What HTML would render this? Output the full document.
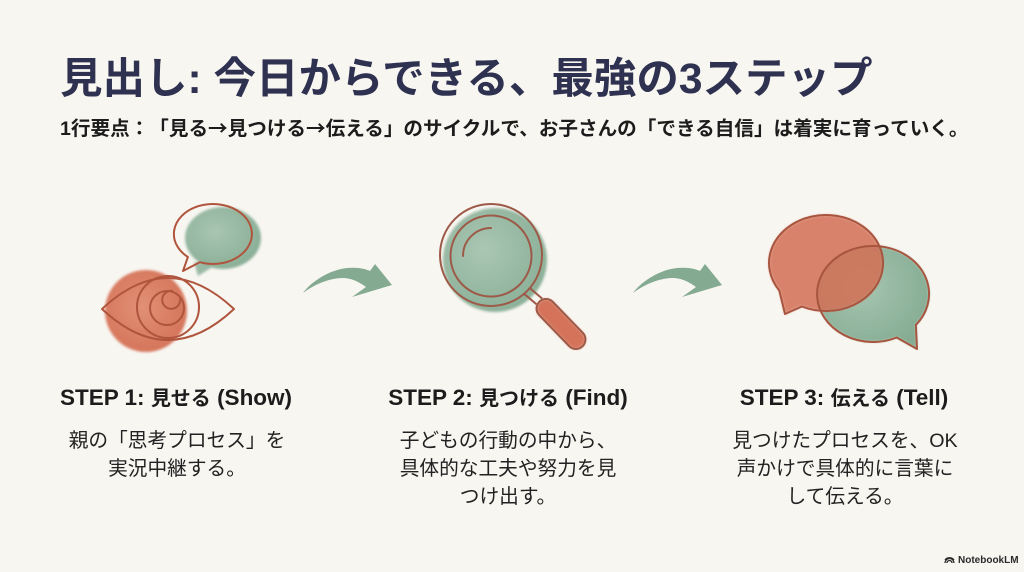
<!DOCTYPE html>
<html>
<head>
<meta charset="utf-8">
<style>
  html,body{margin:0;padding:0;}
  body{width:1024px;height:572px;background:#f8f6f1;position:relative;overflow:hidden;
    font-family:"Liberation Sans","Noto Sans CJK JP",sans-serif;
    font-feature-settings:"chws" 0, "halt" 0, "palt" 0;
    text-spacing-trim:space-all;}
  .t{position:absolute;white-space:nowrap;line-height:1;}
  .j{font-family:"Noto Sans CJK JP",sans-serif;text-spacing-trim:space-all;}
  #title{left:60px;top:59px;font-size:42.5px;font-weight:700;color:#2e3150;}
  #sub{left:60px;top:117px;font-size:19.6px;font-weight:700;color:#1c1c1c;}
  .h{position:absolute;width:340px;text-align:center;top:387px;font-size:20px;font-weight:700;color:#1c1c1c;line-height:1;white-space:nowrap;}
  .h .l{font-size:22.5px;}
  .b{position:absolute;width:340px;text-align:center;top:427px;font-size:19.7px;line-height:28px;color:#222;white-space:nowrap;}
  #logo{position:absolute;left:958px;top:556px;font-size:10px;font-weight:700;color:#2a2a2a;line-height:1;}
</style>
</head>
<body>
<svg width="1024" height="572" style="position:absolute;left:0;top:0" xmlns="http://www.w3.org/2000/svg">
  <defs>
    <filter id="wc" x="-20%" y="-20%" width="140%" height="140%"><feGaussianBlur stdDeviation="1.2"/></filter>
    <radialGradient id="rg" cx="45%" cy="45%" r="60%">
      <stop offset="0" stop-color="#e08a70"/>
      <stop offset="1" stop-color="#d26c50"/>
    </radialGradient>
    <radialGradient id="gg" cx="40%" cy="40%" r="65%">
      <stop offset="0" stop-color="#a2c2ad"/>
      <stop offset="1" stop-color="#7fa88e"/>
    </radialGradient>
  </defs>

  <!-- STEP 1 icon: eye + speech bubble -->
  <g filter="url(#wc)">
    <ellipse cx="223" cy="238" rx="38" ry="31" fill="url(#gg)" opacity="0.92"/>
    <polygon points="194,262 198,276 214,266" fill="#8fb39c" opacity="0.9"/>
    <circle cx="146" cy="311" r="41" fill="url(#rg)" opacity="0.95"/>
  </g>
  <g fill="none" stroke="#b0553d" stroke-width="2" stroke-linejoin="round">
    <path d="M187.9,257 L183,271 L199.7,262.2 A39 30 0 1 0 187.9,257 Z"/>
    <path d="M102,309 Q168,247 234,309 Q168,371 102,309 Z"/>
    <circle cx="168" cy="307" r="31"/>
    <circle cx="167" cy="308" r="17"/>
    <path d="M180,298 A9 9 0 1 1 173,291"/>
  </g>

  <!-- Arrows -->
  <path d="M303,293 C310,283 328,270 347,268 C358,267 366,269 370,271 L375,264 L392,285 L352,297 L366,287 C358,281 350,278 343,278 C330,278 315,284 303,293 Z" fill="#84aa91"/>
  <path d="M633,293 C640,283 658,270 677,268 C688,267 696,269 700,271 L705,264 L722,285 L682,297 L696,287 C688,281 680,278 673,278 C660,278 645,284 633,293 Z" fill="#84aa91"/>

  <!-- STEP 2 icon: magnifier -->
  <g filter="url(#wc)">
    <circle cx="495" cy="260" r="52" fill="url(#gg)" opacity="0.9"/>
    <rect x="-31" y="-9.5" width="62" height="19" rx="9.5" transform="translate(561,324) rotate(46)" fill="#d5735a"/>
  </g>
  <g fill="none" stroke="#9d5a48" stroke-width="2">
    <circle cx="491" cy="255" r="51"/>
    <circle cx="491" cy="256" r="40.5"/>
    <path d="M463,256 A28 28 0 0 1 491,228" stroke-linecap="round"/>
    <line x1="529.9" y1="288.2" x2="542.2" y2="298.6"/>
    <line x1="524.1" y1="293.8" x2="536.4" y2="304.2"/>
    <rect x="-31" y="-9.5" width="62" height="19" rx="9.5" transform="translate(561,324) rotate(46)"/>
  </g>

  <!-- STEP 3 icon: two bubbles -->
  <g filter="url(#wc)">
    <path d="M915.9,324.9 L917,349 L896.7,337.5 A56 48 0 1 1 915.9,324.9 Z" fill="url(#gg)" opacity="0.95"/>
    <path d="M779.3,290.5 L785,314 L801.9,306.5 A57 48 0 1 0 779.3,290.5 Z" fill="#d46f53" opacity="0.85"/>
  </g>
  <g fill="none" stroke="#a8553f" stroke-width="2" stroke-linejoin="round">
    <path d="M779.3,290.5 L785,314 L801.9,306.5 A57 48 0 1 0 779.3,290.5 Z"/>
    <path d="M915.9,324.9 L917,349 L896.7,337.5 A56 48 0 1 1 915.9,324.9 Z"/>
  </g>

  <!-- logo icon -->
  <g fill="none" stroke="#2a2a2a" stroke-width="1.3">
    <path d="M945,563 A4.5 4.5 0 0 1 954,563"/>
    <path d="M947,563 A2.5 2.5 0 0 1 952,563"/>
    <path d="M945,560 A5 4 0 0 1 954,560"/>
  </g>
</svg>

<div class="t" id="title">見出し: 今日からできる、最強の3ステップ</div>
<div class="t" id="sub">1<span class="j">行要点：「見る→見つける→伝える」のサイクルで、お子さんの「できる自信」は着実に育っていく。</span></div>

<div class="h" style="left:6px;"><span class="l">STEP 1: </span>見せる<span class="l"> (Show)</span></div>
<div class="b" style="left:7px;">親の「思考プロセス」を<br>実況中継する。</div>

<div class="h" style="left:338px;"><span class="l">STEP 2: </span>見つける<span class="l"> (Find)</span></div>
<div class="b" style="left:338px;">子どもの行動の中から、<br>具体的な工夫や努力を見<br>つけ出す。</div>

<div class="h" style="left:674px;"><span class="l">STEP 3: </span>伝える<span class="l"> (Tell)</span></div>
<div class="b" style="left:675px;">見つけたプロセスを、OK<br>声かけで具体的に言葉に<br>して伝える。</div>

<div id="logo">NotebookLM</div>
</body>
</html>
